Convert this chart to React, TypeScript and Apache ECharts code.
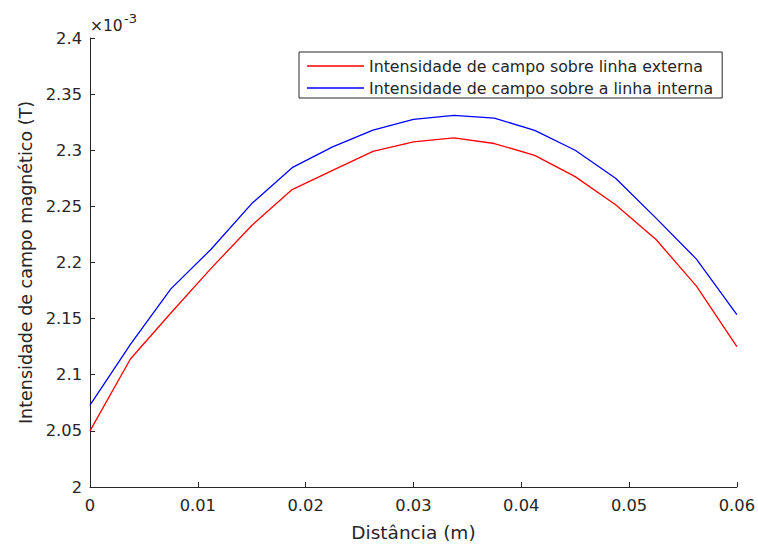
import React, { useEffect, useRef } from "react";
import * as echarts from "echarts";

const distance = [0, 0.00375, 0.0075, 0.01125, 0.015, 0.01875, 0.0225, 0.02625, 0.03, 0.03375, 0.0375, 0.04125, 0.045, 0.04875, 0.0525, 0.05625, 0.06];
const externa = [2.05, 2.114, 2.155, 2.195, 2.233, 2.265, 2.282, 2.299, 2.3075, 2.311, 2.306, 2.2955, 2.2765, 2.2515, 2.2205, 2.179, 2.125];
const interna = [2.073, 2.127, 2.1765, 2.212, 2.2525, 2.2845, 2.303, 2.318, 2.3275, 2.331, 2.3287, 2.3177, 2.3, 2.275, 2.2395, 2.203, 2.1535];
const seriesNames = ["Intensidade de campo sobre linha externa", "Intensidade de campo sobre a linha interna"];
const xLabel = "Distância (m)";
const yLabel = "Intensidade de campo magnético (T)";

const FONT = "DejaVu Sans";
const INK = "#262626";

export default function App() {
  const ref = useRef<HTMLDivElement>(null);
  useEffect(() => {
    if (!ref.current) return;
    const chart = echarts.init(ref.current, undefined, { renderer: "svg" });
    chart.setOption({
      animation: false,
      backgroundColor: "#ffffff",
      grid: { left: 90, right: 21, top: 38, bottom: 57, containLabel: false },
      xAxis: {
        type: "value",
        min: 0,
        max: 0.06,
        interval: 0.01,
        name: xLabel,
        nameLocation: "middle",
        nameGap: 36,
        nameTextStyle: { fontFamily: FONT, fontSize: 18.5, color: INK },
        axisLine: { show: true, lineStyle: { color: INK, width: 1 } },
        axisTick: { show: true, inside: true, length: 5, lineStyle: { color: INK } },
        axisLabel: { margin: 10, fontFamily: FONT, fontSize: 16.3, color: INK },
        splitLine: { show: false },
      },
      yAxis: {
        type: "value",
        min: 2,
        max: 2.4,
        interval: 0.05,
        name: yLabel,
        nameLocation: "middle",
        nameGap: 55,
        nameTextStyle: { fontFamily: FONT, fontSize: 17.5, color: INK },
        axisLine: { show: true, lineStyle: { color: INK, width: 1 } },
        axisTick: { show: true, inside: true, length: 5, lineStyle: { color: INK } },
        axisLabel: {
          margin: 8,
          fontFamily: FONT,
          fontSize: 16.3,
          color: INK,
          formatter: (v: number) => String(parseFloat(v.toFixed(2))),
        },
        splitLine: { show: false },
      },
      legend: {
        orient: "vertical",
        left: 299,
        top: 52,
        padding: [6, 9, 2, 8],
        itemGap: 6,
        itemWidth: 57,
        itemHeight: 1.5,
        icon: "rect",
        backgroundColor: "#ffffff",
        borderColor: INK,
        borderWidth: 1,
        borderRadius: 0,
        textStyle: { fontFamily: FONT, fontSize: 15.8, color: INK, lineHeight: 16 },
        data: seriesNames,
      },
      graphic: [
        {
          type: "text",
          left: 90,
          top: 18,
          style: { text: "×10", fontFamily: FONT, fontSize: 15.5, fill: INK },
        },
        {
          type: "text",
          left: 124,
          top: 12,
          style: { text: "-3", fontFamily: FONT, fontSize: 13, fill: INK },
        },
      ],
      series: [
        {
          name: seriesNames[0],
          type: "line",
          data: distance.map((x, i) => [x, externa[i]]),
          symbol: "none",
          lineStyle: { color: "#ff0000", width: 1.3 },
          itemStyle: { color: "#ff0000" },
        },
        {
          name: seriesNames[1],
          type: "line",
          data: distance.map((x, i) => [x, interna[i]]),
          symbol: "none",
          lineStyle: { color: "#0000ff", width: 1.3 },
          itemStyle: { color: "#0000ff" },
        },
      ],
    });
    return () => chart.dispose();
  }, []);
  return <div ref={ref} style={{ position: "fixed", left: 0, top: 0, width: 758, height: 547 }} />;
}
